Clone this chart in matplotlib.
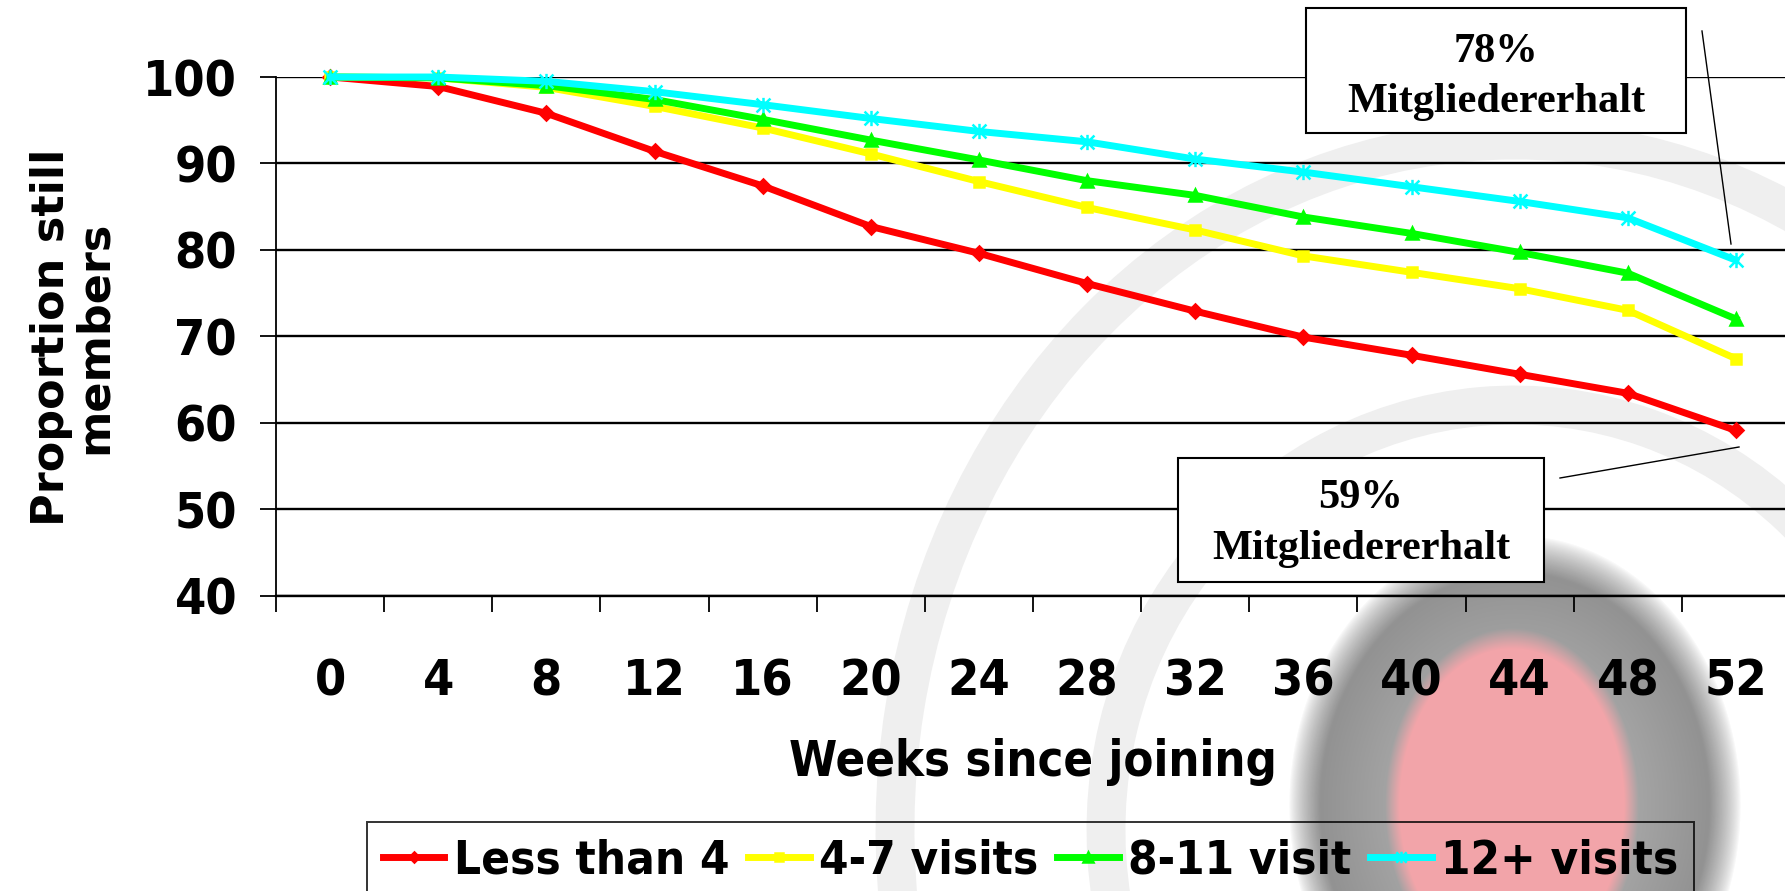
import matplotlib
matplotlib.use("Agg")
import matplotlib.pyplot as plt
from matplotlib.font_manager import FontProperties
from matplotlib.patches import Rectangle, Arc
from matplotlib.path import Path
import numpy as np

# retention by number of visits in the first weeks
weeks = [0, 4, 8, 12, 16, 20, 24, 28, 32, 36, 40, 44, 48, 52]
less_than_4 = [100, 98.9, 95.8, 91.4, 87.4, 82.7, 79.6, 76.1, 72.9, 69.9, 67.8, 65.6, 63.4, 59.1]
visits_4_7 = [100, 99.9, 98.8, 96.6, 94.1, 91.1, 87.9, 84.9, 82.3, 79.3, 77.4, 75.5, 73.0, 67.4]
visits_8_11 = [100, 99.9, 99.0, 97.4, 95.1, 92.7, 90.4, 88.0, 86.3, 83.8, 81.9, 79.7, 77.3, 72.0]
visits_12_plus = [100, 100, 99.5, 98.3, 96.8, 95.2, 93.7, 92.5, 90.5, 89.0, 87.3, 85.6, 83.7, 78.8]
series_names = ["Less than 4", "4-7 visits", "8-11 visit", "12+ visits"]
series_colors = ["#ff0000", "#ffff00", "#00ff00", "#00ffff"]
y_ticks = [40, 50, 60, 70, 80, 90, 100]
retention_text = "Mitgliedererhalt"

W, H = 1785, 891

# excel style "star": an x with a vertical bar through it
star = Path([(-1, -1), (1, 1), (-1, 1), (1, -1), (0, -1.1), (0, 1.1)],
            [Path.MOVETO, Path.LINETO, Path.MOVETO, Path.LINETO, Path.MOVETO, Path.LINETO])
markers = [("D", 7), ("s", 7), ("^", 9), (star, 11)]

bold_cond = dict(family="DejaVu Sans", weight="bold", stretch="condensed")
tick_fp = FontProperties(size=36, **bold_cond)
xlabel_fp = FontProperties(size=35, **bold_cond)
legend_fp = FontProperties(size=34, **bold_cond)
ylabel_fp = FontProperties(family="DejaVu Sans", weight="bold", size=32)
note_fp = FontProperties(family="Liberation Serif", weight="bold", size=30.5)

fig = plt.figure(figsize=(W / 100, H / 100), dpi=100, facecolor="white")

# --- faint background logo, drawn in pixel coordinates
bg = fig.add_axes([0, 0, 1, 1], zorder=-1)
bg.set_xlim(0, W)
bg.set_ylim(H, 0)
bg.axis("off")

for (cx, cy, a, b, t0, t1) in [(1515, 830, 620, 690, 150, 300), (1515, 830, 409, 425, 170, 360)]:
    bg.add_patch(Arc((cx, cy), 2 * a, 2 * b, theta1=t0, theta2=t1, color="#efefef", lw=28))

x0, x1, y0, y1 = 1250, 1785, 500, 891
X, Y = np.meshgrid(np.arange(x0, x1) + 0.5, np.arange(y0, y1) + 0.5)
r = np.sqrt(((X - 1515) / 226) ** 2 + ((Y - 805) / 270) ** 2)
rp = np.sqrt(((X - 1512) / 122) ** 2 + ((Y - 805) / 170) ** 2)
img = np.ones((y1 - y0, x1 - x0, 4))
grey = (196 - 58 * np.clip(r, 0, 1)) / 255
for k in range(3):
    img[..., k] = grey
pink = np.array([242, 164, 169]) / 255
wp = np.clip((1.04 - rp) / 0.12, 0, 1)
for k in range(3):
    img[..., k] = img[..., k] * (1 - wp) + pink[k] * wp
img[..., 3] = np.clip((1.0 - r) / 0.14, 0, 1) ** 0.8
bg.imshow(img, extent=(x0, x1, y1, y0), interpolation="bilinear", zorder=1)

# --- main chart
ax = fig.add_axes([276 / W, 1 - 595.5 / H, 1514 / W, (595.5 - 77) / H])
ax.patch.set_visible(False)
pos = np.arange(len(weeks))
for vals, name, col, (mk, ms) in zip([less_than_4, visits_4_7, visits_8_11, visits_12_plus],
                                      series_names, series_colors, markers):
    ax.plot(pos, vals, color=col, lw=5, marker=mk, ms=ms, mfc=col, mec=col,
            mew=1.8, label=name, zorder=3, clip_on=False)

ax.set_xlim(-0.5, len(weeks) - 0.5)
ax.set_ylim(40, 100)
ax.set_yticks(y_ticks)
ax.set_xticks(pos)
ax.set_xticklabels([str(w) for w in weeks])
ax.set_xticks(np.arange(-0.5, len(weeks)), minor=True)
ax.yaxis.grid(True, color="black", lw=1.7)
ax.tick_params(axis="x", which="major", length=0, pad=44.5)
ax.tick_params(axis="x", which="minor", length=11.5, width=1.3, direction="out")
ax.tick_params(axis="y", length=11.5, width=1.3, pad=16.5)
for lbl in ax.get_xticklabels() + ax.get_yticklabels():
    lbl.set_fontproperties(tick_fp)
for side in ("top", "right"):
    ax.spines[side].set_visible(False)
ax.spines["left"].set_linewidth(1.3)
ax.spines["bottom"].set_linewidth(1.7)

fig.text(1033 / W, 1 - 738 / H, "Weeks since joining", ha="center", va="top",
         fontproperties=xlabel_fp)
fig.text(73 / W, 1 - 337 / H, "Proportion still\nmembers", rotation=90, ha="center",
         va="center", multialignment="center", linespacing=1.0, fontproperties=ylabel_fp)

leg = ax.legend(loc="upper left", bbox_to_anchor=(367 / W, 1 - 822 / H),
                bbox_transform=fig.transFigure, ncol=4, prop=legend_fp, frameon=True,
                fancybox=False, borderaxespad=0, borderpad=0.34, handlelength=1.3,
                handletextpad=0.2, columnspacing=0.4, markerscale=0.75)
leg.get_frame().set_edgecolor("black")
leg.get_frame().set_facecolor("none")
leg.get_frame().set_linewidth(1.4)

# --- call-out boxes for the week 52 values
top = fig.add_axes([0, 0, 1, 1], zorder=5)
top.set_xlim(0, W)
top.set_ylim(H, 0)
top.axis("off")

callouts = [
    (visits_12_plus[-1], (1306, 8, 1686, 133), (62, 112), ((1702, 31), (1731, 244))),
    (less_than_4[-1], (1178, 458, 1544, 582), (508, 559), ((1560, 478), (1739, 447))),
]
for value, (bx0, by0, bx1, by1), (b1, b2), (p, q) in callouts:
    top.add_patch(Rectangle((bx0, by0), bx1 - bx0, by1 - by0, facecolor="white",
                            edgecolor="black", lw=1.5))
    cx = (bx0 + bx1) / 2
    top.text(cx, b1, f"{int(value)}%", ha="center", va="baseline", fontproperties=note_fp)
    top.text(cx, b2, retention_text, ha="center", va="baseline", fontproperties=note_fp)
    top.plot([p[0], q[0]], [p[1], q[1]], color="black", lw=1.0)

fig.savefig("out.png", dpi=100, facecolor="white")
